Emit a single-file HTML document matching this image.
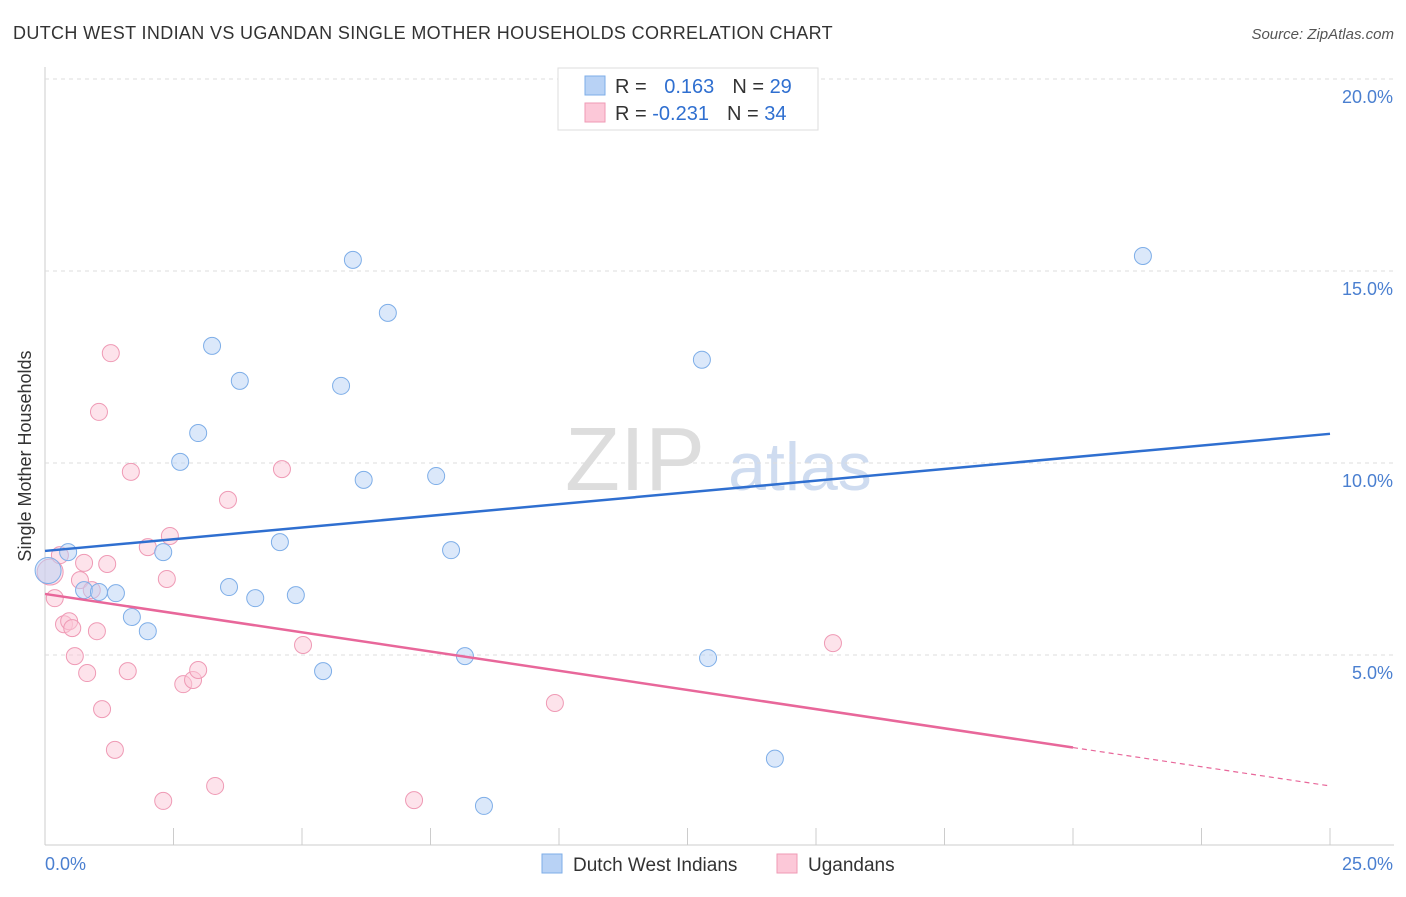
<!DOCTYPE html>
<html><head><meta charset="utf-8"><style>
body{margin:0;background:#fff;font-family:"Liberation Sans",sans-serif;}
svg text{font-family:"Liberation Sans",sans-serif;}
</style></head><body>
<svg id="c" width="1406" height="892">
<text x="13" y="39" font-size="18" letter-spacing="0.35" fill="#333">DUTCH WEST INDIAN VS UGANDAN SINGLE MOTHER HOUSEHOLDS CORRELATION CHART</text>
<text x="1394" y="39" font-size="15" fill="#555" font-style="italic" text-anchor="end">Source: ZipAtlas.com</text>
<text x="31" y="456" font-size="18" fill="#333" transform="rotate(-90 31 456)" text-anchor="middle">Single Mother Households</text>
<text x="635" y="490" font-size="90" fill="#ddd" font-family="Liberation Serif" text-anchor="middle">ZIP</text>
<text x="800" y="490" font-size="68" fill="#cfdcf0" text-anchor="middle">atlas</text>
<g id="grid"></g><g id="marks"></g>
<g>
<rect x="558" y="68" width="260" height="62" fill="#fff" stroke="#ddd"/>
<rect x="585" y="76" width="20" height="19" fill="#b8d2f5" stroke="#7eaee8"/>
<rect x="585" y="103" width="20" height="19" fill="#fcc8d8" stroke="#ef9ab5"/>
<text x="615" y="93" font-size="20" fill="#333">R = <tspan fill="#2f6fd0" dx="12">0.163</tspan><tspan dx="18" fill="#333">N = </tspan><tspan fill="#2f6fd0">29</tspan></text>
<text x="615" y="120" font-size="20" fill="#333">R = <tspan fill="#2f6fd0">-0.231</tspan><tspan dx="18" fill="#333">N = </tspan><tspan fill="#2f6fd0">34</tspan></text>
</g>
<g>
<rect x="542" y="854" width="20" height="19" fill="#b8d2f5" stroke="#7eaee8"/>
<text x="573" y="871" font-size="19" fill="#333">Dutch West Indians</text>
<rect x="777" y="854" width="20" height="19" fill="#fcc8d8" stroke="#ef9ab5"/>
<text x="808" y="871" font-size="19" fill="#333">Ugandans</text>
</g>
</svg>
<script>
const blueX=[0.06,0.45,0.76,1.05,1.38,1.69,2.0,2.3,2.63,2.98,3.25,3.79,3.58,4.09,4.57,4.88,5.41,5.76,5.99,6.2,6.67,7.61,7.9,8.17,8.54,12.78,12.9,14.2,21.36];
const blueY=[7.2,7.68,6.69,6.64,6.61,5.99,5.62,7.68,10.03,10.78,13.05,12.14,6.77,6.48,7.94,6.56,4.58,12.01,15.29,9.56,13.91,9.66,7.73,4.97,1.07,12.69,4.92,2.3,15.39];
const pinkX=[0.1,0.19,0.29,0.37,0.47,0.53,0.58,0.68,0.76,0.82,0.91,1.01,1.05,1.11,1.21,1.28,1.36,1.61,1.67,2.0,2.3,2.37,2.43,2.69,2.88,2.98,3.31,3.56,4.61,5.02,7.18,9.92,15.33];
const pinkY=[7.16,6.48,7.6,5.8,5.88,5.7,4.97,6.95,7.4,4.53,6.69,5.62,11.33,3.59,7.37,12.86,2.53,4.58,9.77,7.81,1.2,6.98,8.1,4.24,4.35,4.61,1.59,9.04,9.84,5.26,1.22,3.75,5.31];
const blueLine=[7.71,10.76];
const pinkLine=[6.59,1.59];
const xTicks=[0,25];
const yTicks=[5,10,15,20];
const X=v=>45+v*51.4, Y=v=>847-v*38.4;
const NS="http://www.w3.org/2000/svg";
const grid=document.getElementById('grid'), marks=document.getElementById('marks');
function mk(p,tag,attrs){const e=document.createElementNS(NS,tag);for(const k in attrs)e.setAttribute(k,attrs[k]);p.appendChild(e);return e;}
let ax=mk(grid,'line',{x1:45,y1:845,x2:1394,y2:845,stroke:'#ccc'});


let ay=mk(grid,'line',{x1:45,y1:67,x2:45,y2:845,stroke:'#ccc'});


for(let i=0;i<=10;i++){const t=mk(grid,'line',{x1:45+i*128.5,y1:828,x2:45+i*128.5,y2:845,stroke:'#ccc'});

}
yTicks.forEach(v=>{const g=mk(grid,'line',{x1:45,y1:Y(v),x2:1394,y2:Y(v),stroke:'#ddd','stroke-dasharray':'4,4'});


const t=mk(grid,'text',{x:1393,y:Y(v)+24,'font-size':18,fill:'#4a7fd0','text-anchor':'end'});t.textContent=v.toFixed(1)+'%';

});
xTicks.forEach((v,i)=>{const t=mk(grid,'text',{x:i?1393:45,y:870,'font-size':18,fill:'#4a7fd0','text-anchor':i?'end':'start'});t.textContent=v.toFixed(1)+'%';

});
function pts(xs,ys,fill,stroke,name){xs.forEach((x,i)=>{const c=mk(marks,'circle',{cx:X(x),cy:Y(ys[i]),r:i===0?13:8.5,fill:fill,'fill-opacity':0.5,stroke:stroke,'stroke-width':1});

});}
pts(pinkX,pinkY,'#fcc8d8','#ef9ab5','ugandan-point');
pts(blueX,blueY,'#b8d2f5','#7eaee8','dutch-point');
let bl=mk(marks,'line',{x1:X(0),y1:Y(blueLine[0]),x2:X(25),y2:Y(blueLine[1]),stroke:'#2f6fd0','stroke-width':2.5});


const pAt=x=>pinkLine[0]+(pinkLine[1]-pinkLine[0])*x/25;
let pl=mk(marks,'line',{x1:X(0),y1:Y(pAt(0)),x2:X(20),y2:Y(pAt(20)),stroke:'#e8679a','stroke-width':2.5});


let pd=mk(marks,'line',{x1:X(20),y1:Y(pAt(20)),x2:X(25),y2:Y(pAt(25)),stroke:'#e8679a','stroke-width':1.2,'stroke-dasharray':'5,4'});


</script>
</body></html>
